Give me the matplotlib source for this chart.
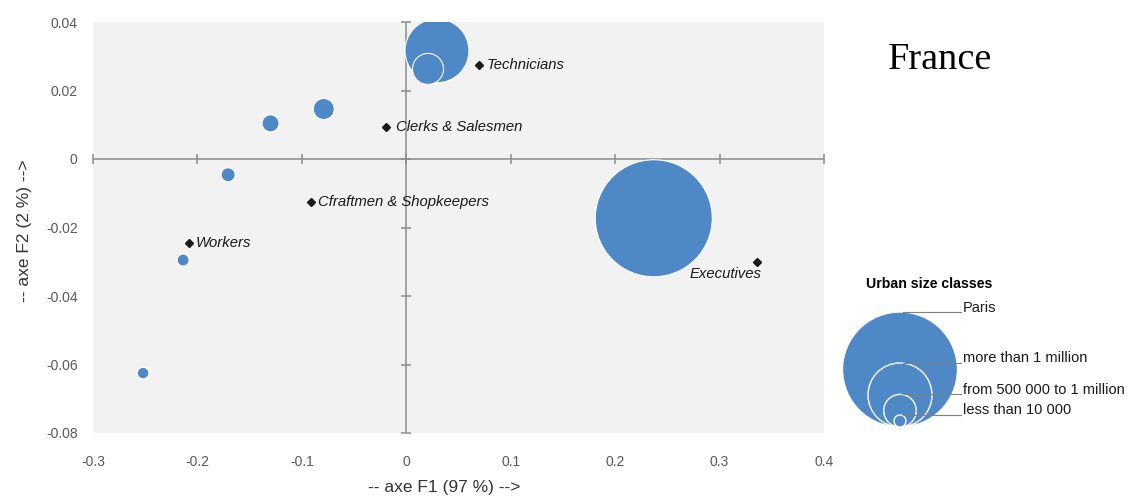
import numpy as np
import matplotlib.pyplot as plt
from matplotlib.patches import Circle

plt.rcParams['font.family'] = ['Liberation Sans', 'DejaVu Sans']

# socio-professional groups (black diamonds)
groups = ["Technicians", "Clerks & Salesmen", "Cfraftmen & Shopkeepers", "Workers", "Executives"]
group_x = [0.0699, -0.0191, -0.0912, -0.2083, 0.3356]
group_y = [0.0274, 0.0092, -0.0125, -0.0245, -0.0300]

# urban size classes (blue bubbles), largest first
city_x = [0.237, 0.0294, 0.0208, -0.079, -0.130, -0.1706, -0.2137, -0.252]
city_y = [-0.0173, 0.0316, 0.0263, 0.0146, 0.0104, -0.0046, -0.0295, -0.0625]
city_size = [58.5, 32, 15.5, 10.5, 8.5, 7, 6, 5.8]

legend_labels = ["Paris", "more than 1 million", "from 500 000 to 1 million", "less than 10 000"]
legend_size = [57.5, 32, 16.3, 6]

x_ticks = [-0.3, -0.2, -0.1, 0, 0.1, 0.2, 0.3, 0.4]
x_ticklabels = ["-0.3", "-0.2", "-0.1", "0", "0.1", "0.2", "0.3", "0.4"]
y_ticks = [-0.08, -0.06, -0.04, -0.02, 0, 0.02, 0.04]
y_ticklabels = ["-0.08", "-0.06", "-0.04", "-0.02", "0", "0.02", "0.04"]

blue = '#4e88c7'
grey = '#8c8c8c'
W, H = 1128, 497

fig = plt.figure(figsize=(W / 100, H / 100), dpi=100)
ax = fig.add_axes([93 / W, 1 - 433 / H, 731 / W, 411 / H])
ax.set_facecolor('#f2f2f2')
for s in ax.spines.values():
    s.set_visible(False)
ax.set_xlim(-0.3, 0.4)
ax.set_ylim(-0.08, 0.04)
ax.set_xticks(x_ticks, x_ticklabels)
ax.set_yticks(y_ticks, y_ticklabels)
ax.tick_params(length=0, labelsize=10, labelcolor='#595959')
ax.tick_params(axis='x', pad=16)
ax.tick_params(axis='y', pad=11)

# zero axes with their tick marks
ax.axhline(0, color=grey, lw=1.1, zorder=1)
ax.axvline(0, color=grey, lw=1.1, zorder=1)
ax.plot(x_ticks, np.zeros(len(x_ticks)), ls='none', marker='|', ms=6.5, mew=1.1,
        color=grey, zorder=1, clip_on=False)
ax.plot(np.zeros(len(y_ticks)), y_ticks, ls='none', marker='_', ms=6.5, mew=1.1,
        color=grey, zorder=1, clip_on=False)

# bubbles (size = radius in px)
s = (2 * np.array(city_size) * 0.72) ** 2
ax.scatter(city_x, city_y, s=s, c=blue, edgecolors='white', linewidths=0.8, zorder=3)

ax.plot(group_x, group_y, ls='none', marker='D', ms=4.5, color='#1a1a1a', zorder=4)
for name, x, y in zip(groups, group_x, group_y):
    if name == "Executives":
        off, ha = (3.6, -8.8), 'right'
    elif name == "Clerks & Salesmen":
        off, ha = (7.2, 0), 'left'
    else:
        off, ha = (5, 0), 'left'
    ax.annotate(name, (x, y), xytext=off, textcoords='offset points', ha=ha, va='center',
                style='italic', fontsize=10.7, color='#1a1a1a', zorder=5)

ax.set_xlabel('-- axe F1 (97 %) -->', fontsize=12.5, color='#333333')
ax.xaxis.set_label_coords((444.5 - 93) / 731, (433 - 480) / 411)
ax.set_ylabel('-- axe F2 (2 %) -->', fontsize=12.5, color='#333333')
ax.yaxis.set_label_coords((32 - 93) / 731, (433 - 230.5) / 411)

fig.text(940.5 / W, 1 - 69.3 / H, 'France', fontsize=27.5, family='Liberation Serif',
         ha='center', va='baseline')

# legend of bubble sizes, drawn in pixel units
lax = fig.add_axes([830 / W, 1 - 440 / H, 298 / W, 170 / H])
lax.set_xlim(830, 1128)
lax.set_ylim(440, 270)
lax.axis('off')
cx, base, line_end = 900, 427, 961
for lab, r in zip(legend_labels, legend_size):
    lax.add_patch(Circle((cx, base - r), r, facecolor=blue, edgecolor='white', lw=1, zorder=2))
    top = base - 2 * r
    lax.plot([cx + 3, line_end], [top, top], color='#808080', lw=0.8, zorder=3)
    lax.text(line_end + 2, top - 4.5, lab, fontsize=10.5, ha='left', va='center', color='#1a1a1a')
lax.text(929.5, 284, 'Urban size classes', fontsize=10.2, fontweight='bold', ha='center', va='center')

fig.savefig('out.png', dpi=100)
